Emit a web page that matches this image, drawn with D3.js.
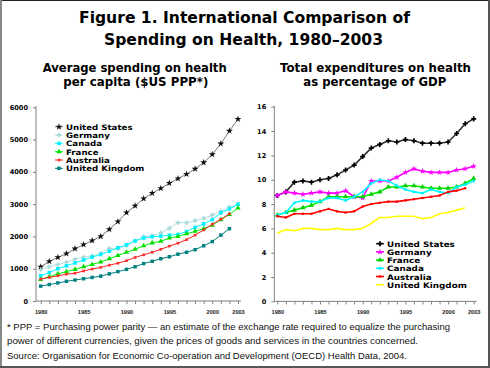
<!DOCTYPE html>
<html><head><meta charset="utf-8">
<script src="https://cdn.jsdelivr.net/npm/d3@7"></script>
<style>body{margin:0;background:#fff}svg{display:block}</style>
</head><body>
<svg id="c" width="490" height="368"></svg>
<script>
// ---------- data ----------
const years = [1980,1981,1982,1983,1984,1985,1986,1987,1988,1989,1990,1991,1992,1993,1994,1995,1996,1997,1998,1999,2000,2001,2002,2003];
const yearLabels = [1980,1985,1990,1995,2000,2003];
const pcTicks = [0,1000,2000,3000,4000,5000,6000];
const gdpTicks = [0,2,4,6,8,10,12,14,16];
const legendLeft = ["United States","Germany","Canada","France","Australia","United Kingdom"];
const legendRight = ["United States","Germany","France","Canada","Australia","United Kingdom"];

// per capita spending, $US PPP
const usPC = [1055,1230,1350,1470,1620,1745,1870,2000,2220,2460,2738,2950,3170,3340,3490,3654,3790,3930,4090,4290,4539,4872,5267,5635];
const dePC = [970,1060,1130,1200,1290,1360,1400,1480,1630,1610,1720,1860,1995,2025,2115,2250,2427,2427,2489,2560,2660,2785,2920,2965];
const caPC = [780,880,1000,1090,1180,1270,1360,1440,1540,1650,1740,1860,1950,1990,2010,2040,2060,2150,2280,2390,2520,2730,2850,3000];
const frPC = [670,750,840,910,980,1060,1130,1210,1310,1410,1510,1600,1710,1800,1850,1950,2000,2080,2160,2240,2350,2520,2680,2880];
const auPC = [680,730,780,830,860,930,990,1040,1110,1170,1250,1350,1430,1510,1600,1700,1790,1900,2040,2200,2380,2530,2700];
const ukPC = [460,510,560,610,650,690,730,770,840,910,980,1060,1160,1230,1310,1370,1450,1510,1590,1710,1840,2040,2240];

// total expenditure on health, % of GDP
const usG = [8.7,9.0,9.8,9.9,9.8,10.0,10.1,10.4,10.8,11.2,11.9,12.6,12.9,13.2,13.1,13.3,13.2,13.0,13.0,13.0,13.1,13.8,14.6,15.0];
const deG = [8.7,9.0,8.9,8.8,8.9,9.0,8.9,8.9,9.1,8.6,8.5,9.9,9.9,9.9,10.2,10.6,10.9,10.7,10.6,10.6,10.6,10.8,10.9,11.1];
const frG = [7.1,7.3,7.5,7.7,7.9,8.2,8.6,8.6,8.6,8.6,8.6,8.8,9.0,9.4,9.4,9.5,9.5,9.4,9.3,9.3,9.3,9.4,9.7,10.1];
const caG = [7.1,7.3,8.1,8.3,8.2,8.2,8.5,8.5,8.3,8.6,9.0,9.7,10.0,9.9,9.5,9.2,9.0,8.9,9.2,9.0,8.9,9.4,9.6,9.9];
const auG = [7.0,6.9,7.2,7.2,7.2,7.4,7.6,7.4,7.3,7.4,7.8,8.0,8.1,8.2,8.2,8.3,8.4,8.5,8.6,8.7,9.0,9.1,9.3];
const ukG = [5.6,5.9,5.8,6.0,6.0,5.9,5.9,6.0,5.9,5.9,6.0,6.4,6.9,6.9,7.0,7.0,7.0,6.8,6.9,7.2,7.3,7.5,7.7];

const footnote = [
 "* PPP = Purchasing power parity \u2014 an estimate of the exchange rate required to equalize the purchasing",
 "power of different currencies, given the prices of goods and services in the countries concerned.",
 "Source: Organisation for Economic Co-operation and Development (OECD) Health Data, 2004."
];

// ---------- drawing ----------
const svg = d3.select("#c");
svg.append("rect").attr("width",490).attr("height",368).attr("fill","#fff");

const BOLD = "'DejaVu Sans', Verdana, sans-serif";
const ARIAL = "'Liberation Sans', Arial, sans-serif";

function text(x,y,s,opt){
  const t = svg.append("text").attr("x",x).attr("y",y).text(s)
    .attr("font-family",opt.family||BOLD).attr("font-size",opt.size)
    .attr("font-weight",opt.weight||"bold").attr("fill",opt.fill||"#000")
    .attr("text-anchor",opt.anchor||"start");
  if(opt.len) t.attr("textLength",opt.len).attr("lengthAdjust","spacingAndGlyphs");
  return t;
}

text(244.5,23,"Figure 1. International Comparison of",{size:15.5,anchor:"middle",len:331});
text(243.5,44.5,"Spending on Health, 1980\u20132003",{size:15.5,anchor:"middle",len:279});
text(134.7,71.5,"Average spending on health",{size:11.6,anchor:"middle",len:184});
text(135.8,86,"per capita ($US PPP*)",{size:11.6,anchor:"middle",len:145});
text(375.5,71.5,"Total expenditures on health",{size:11.6,anchor:"middle",len:191});
text(374.8,86,"as percentage of GDP",{size:11.6,anchor:"middle",len:143});

const fnLens = [443,411,400];
footnote.forEach((s,i)=>text(7,329.5+i*14.8,s,{size:9.3,weight:"normal",family:ARIAL,len:fnLens[i],fill:"#111"}));

const sym = (type,size)=>d3.symbol().type(type).size(size)();

function panel(cfg){
  const g = svg.append("g");
  const x = d3.scaleLinear().domain([1980,2003]).range(cfg.xr);
  const y = d3.scaleLinear().domain(cfg.yd).range(cfg.yr);
  // y axis
  const ya = g.append("g").attr("transform",`translate(${cfg.axisX},0)`)
    .call(d3.axisLeft(y).tickValues(cfg.yticks).tickSize(3).tickSizeOuter(0).tickPadding(5).tickFormat(d3.format("d")));
  ya.select(".domain").remove();
  ya.append("line").attr("x1",0).attr("x2",0).attr("y1",y(cfg.yd[0])).attr("y2",y(cfg.yd[1])-1);
  ya.selectAll("line").attr("stroke","#808080");
  ya.selectAll("text").attr("font-family",BOLD).attr("font-weight","bold").attr("font-size",6.6).attr("fill","#000");
  // x axis
  const xa = g.append("g").attr("transform",`translate(0,${cfg.yr[0]})`)
    .call(d3.axisBottom(x).tickValues(years).tickSize(3).tickSizeOuter(0)
      .tickFormat(d=>yearLabels.includes(d)?String(d):""));
  xa.select(".domain").remove();
  xa.append("line").attr("x1",cfg.axisX).attr("x2",cfg.xr[1]+3).attr("y1",0).attr("y2",0);
  xa.selectAll("line").attr("stroke","#808080");
  xa.selectAll("text").attr("font-family",ARIAL).attr("font-weight","bold").attr("font-size",5.6)
    .attr("fill","#222").attr("dy","1.2em");

  const line = d3.line().x((d,i)=>x(years[i])).y(d=>y(d));
  cfg.series.forEach(s=>{
    g.append("path").datum(s.v).attr("d",line).attr("fill","none")
      .attr("stroke",s.lc).attr("stroke-width",cfg.lw).attr("stroke-linejoin","round");
    if(s.sym){
      g.selectAll(null).data(s.v).join("path")
        .attr("d",sym(s.sym,s.ss))
        .attr("transform",(d,i)=>`translate(${x(years[i])},${y(d)})`)
        .attr("fill",s.mc);
    }
  });
  // legend
  cfg.legendOrder.forEach((name,i)=>{
    const s = cfg.series.find(d=>d.name===name);
    const ly = cfg.ly + i*cfg.lsp;
    const cy = ly - 3;
    g.append("line").attr("x1",cfg.lx).attr("x2",cfg.lx+8).attr("y1",cy).attr("y2",cy)
      .attr("stroke",s.lc).attr("stroke-width",cfg.lw);
    if(s.sym) g.append("path").attr("d",sym(s.sym,s.ss))
      .attr("transform",`translate(${cfg.lx+4},${cy})`).attr("fill",s.mc);
    // measure at the wide size, then draw a shorter glyph height at that width
    const t = text(cfg.lx+11,ly,name,{size:cfg.lfs});
    const w = t.node().getComputedTextLength();
    t.attr("font-size",cfg.lfs*0.86).attr("textLength",w).attr("lengthAdjust","spacingAndGlyphs");
  });
}

panel({
  xr:[40.7,238], yd:[0,6000], yr:[301,107.3], axisX:36, yticks:pcTicks, lw:1,
  series:[
    {name:"United States",v:usPC,lc:"#7a7a7a",mc:"#111",sym:d3.symbolStar,ss:15},
    {name:"Germany",v:dePC,lc:"#b8e2e2",mc:"#a8d8d8",sym:d3.symbolCross,ss:12},
    {name:"Canada",v:caPC,lc:"#00ffff",mc:"#00f0ff",sym:d3.symbolSquare,ss:13},
    {name:"France",v:frPC,lc:"#00ee00",mc:"#00dd00",sym:d3.symbolTriangle,ss:12},
    {name:"Australia",v:auPC,lc:"#ff2020",mc:"#ff3030",sym:d3.symbolSquare,ss:7},
    {name:"United Kingdom",v:ukPC,lc:"#008080",mc:"#008080",sym:d3.symbolSquare,ss:12}
  ],
  legendOrder:legendLeft, lx:55, ly:129.8, lsp:8.3, lfs:8.65
});

panel({
  xr:[277.3,473.7], yd:[0,16], yr:[301.4,106.7], axisX:274.3, yticks:gdpTicks, lw:1.6,
  series:[
    {name:"United States",v:usG,lc:"#333333",mc:"#000",sym:d3.symbolCross,ss:14},
    {name:"Germany",v:deG,lc:"#ff00ff",mc:"#ff00ff",sym:d3.symbolStar,ss:12},
    {name:"France",v:frG,lc:"#00ee00",mc:"#00cc00",sym:d3.symbolTriangle,ss:12},
    {name:"Canada",v:caG,lc:"#00ffff",mc:"#00e8ff",sym:d3.symbolSquare,ss:6},
    {name:"Australia",v:auG,lc:"#ff0000",mc:"#ff0000",sym:d3.symbolSquare,ss:5},
    {name:"United Kingdom",v:ukG,lc:"#ffff00",mc:"#ffff00",sym:null,ss:0}
  ],
  legendOrder:legendRight, lx:376, ly:246.7, lsp:8.2, lfs:8.8
});

// frame
svg.append("line").attr("x1",0).attr("x2",490).attr("y1",0.5).attr("y2",0.5).attr("stroke","#222");
svg.append("line").attr("x1",1).attr("x2",1).attr("y1",0).attr("y2",368).attr("stroke","#888").attr("stroke-width",2);
svg.append("line").attr("x1",489).attr("x2",489).attr("y1",0).attr("y2",368).attr("stroke","#555").attr("stroke-width",2);
svg.append("line").attr("x1",0).attr("x2",490).attr("y1",367).attr("y2",367).attr("stroke","#555").attr("stroke-width",2);
</script>
</body></html>
